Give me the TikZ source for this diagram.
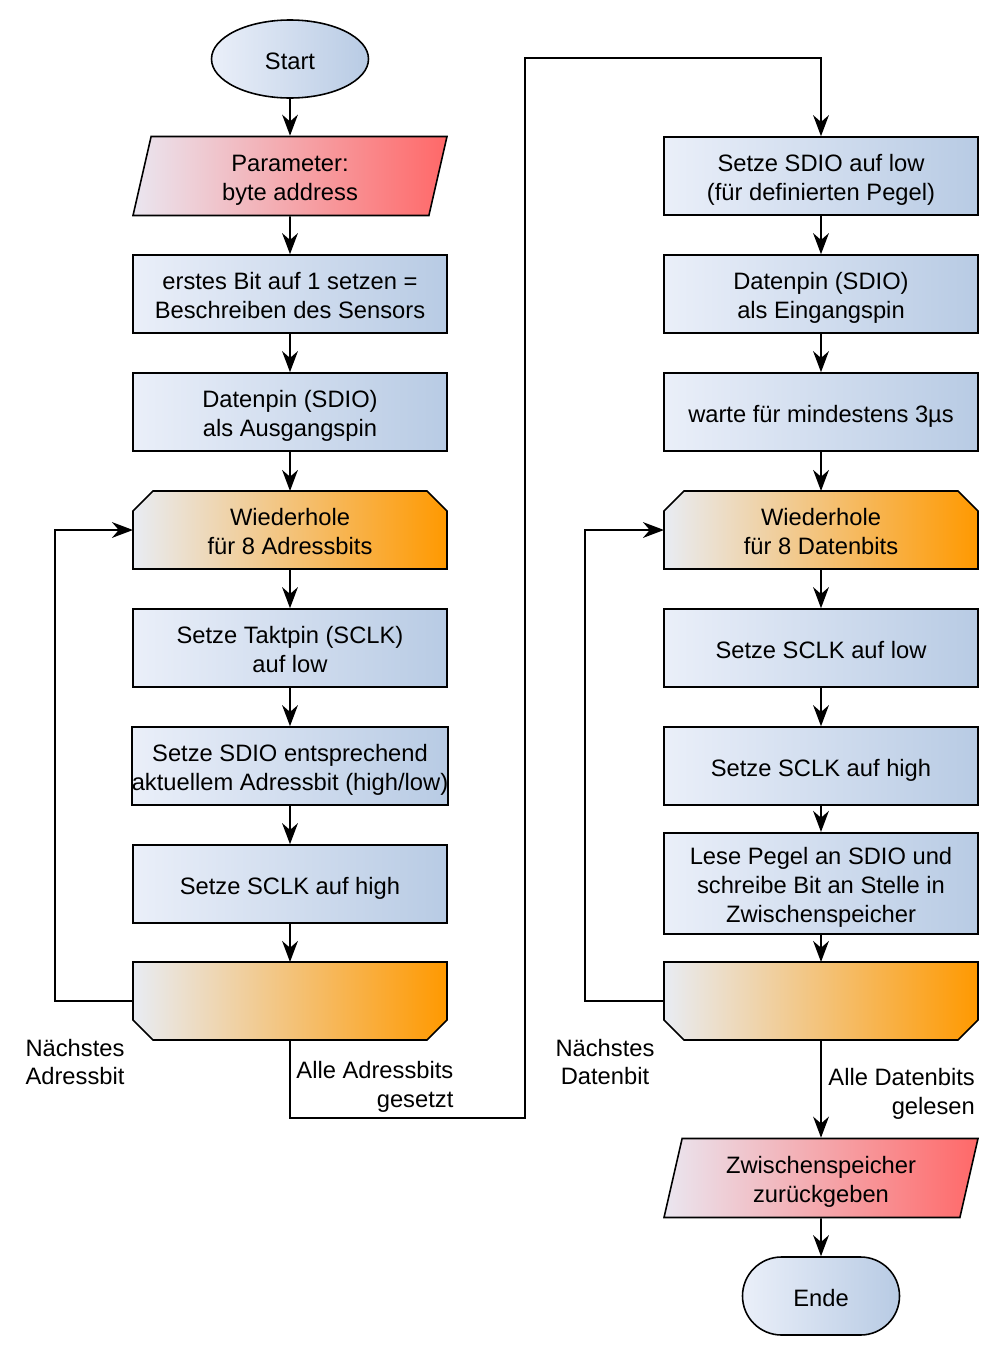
\documentclass[tikz,border=0pt]{standalone}
\usepackage{fontspec}
\setmainfont{Liberation Sans}
\usepackage{tikz}
\usetikzlibrary{arrows.meta,shapes.geometric,backgrounds}
\definecolor{boxL}{RGB}{234,239,249}
\definecolor{boxR}{RGB}{184,203,228}
\definecolor{ioL}{RGB}{234,230,240}
\definecolor{ioR}{RGB}{255,104,104}
\definecolor{loopL}{RGB}{232,236,243}
\definecolor{loopR}{RGB}{255,153,0}
\tikzset{
  every node/.style={font=\fontsize{13.5}{16.4}\selectfont},
  every path/.style={line width=0.9pt},
  >={Stealth[length=12pt,width=9pt]},
  txt/.style={execute at begin node={\rule{0pt}{#1}}, execute at end node={\rule[-3.3pt]{0pt}{3.3pt}}},
  txt/.default=15pt,
  proc/.style={draw, rectangle, txt=#1, align=center, inner xsep=0pt, minimum width=6.28cm, minimum height=1.56cm, left color=boxL, right color=boxR},
  proc/.default=31.4pt,
  io/.style={draw, trapezium, txt=31.4pt, trapezium left angle=76, trapezium right angle=104, trapezium stretches body, align=center, minimum width=6.28cm, minimum height=1.58cm, left color=ioL, right color=ioR},
  loopbox/.style={rectangle, txt=31.4pt, align=center, inner sep=0pt, outer sep=0pt, minimum width=6.28cm, minimum height=1.56cm},
  loopfill/.style={draw, left color=loopL, right color=loopR},
  term/.style={draw, ellipse, txt, minimum width=3.14cm, minimum height=1.56cm, left color=boxL, right color=boxR},
  stop/.style={draw, rectangle, txt, rounded corners=0.78cm, minimum width=3.14cm, minimum height=1.56cm, left color=boxL, right color=boxR}
}
\begin{document}
\begin{tikzpicture}
\useasboundingbox (0,0) rectangle (20,-27.1);
%Adressbits schreiben
  \node[term] (start) at (5.8,-1.18) {Start};
  \node[io] (param) at (5.8,-3.52) {Parameter:\\byte address};
  \node[proc] (bit1) at (5.8,-5.88) {erstes Bit auf 1 setzen =\\Beschreiben des Sensors};
  \node[proc] (aout) at (5.8,-8.24) {Datenpin (SDIO)\\als Ausgangspin};
  \node[loopbox] (aloop) at (5.8,-10.6) {Wiederhole\\für 8 Adressbits};
  \node[proc] (asclk) at (5.8,-12.96) {Setze Taktpin (SCLK)\\auf low};
  \node[proc] (asdio) at (5.8,-15.32) {Setze SDIO entsprechend\\aktuellem Adressbit (high/low)};
  \node[proc=15pt] (ahigh) at (5.8,-17.68) {Setze SCLK auf high};
  \node[loopbox] (aend) at (5.8,-20.02) {};
  \node[align=center] (anext) at (1.5,-21.24) {Nächstes\\Adressbit};
  \node[align=right, anchor=east] (adone) at (9.2,-21.74) {Alle Adressbits\\gesetzt};
  \coordinate (turnA) at (10.5,-22.36);
  \coordinate (turnB) at (10.5,-1.16);
%Datenbits lesen
  \node[proc] (dlow) at (16.42,-3.52) {Setze SDIO auf low\\(für definierten Pegel)};
  \node[proc] (din) at (16.42,-5.88) {Datenpin (SDIO)\\als Eingangspin};
  \node[proc=15pt] (dwait) at (16.42,-8.24) {warte für mindestens 3µs};
  \node[loopbox] (dloop) at (16.42,-10.6) {Wiederhole\\für 8 Datenbits};
  \node[proc=15pt] (dsclk) at (16.42,-12.96) {Setze SCLK auf low};
  \node[proc=15pt] (dhigh) at (16.42,-15.32) {Setze SCLK auf high};
  \node[proc=47.8pt, minimum height=1.98cm] (dread) at (16.42,-17.67) {Lese Pegel an SDIO und\\schreibe Bit an Stelle in\\Zwischenspeicher};
  \node[loopbox] (dend) at (16.42,-20.02) {};
  \node[align=center] (dnext) at (12.1,-21.24) {Nächstes\\Datenbit};
  \node[align=right, anchor=east] (ddone) at (19.63,-21.88) {Alle Datenbits\\gelesen};
  \node[io] (ret) at (16.42,-23.56) {Zwischenspeicher\\zurückgeben};
  \node[stop] (ende) at (16.42,-25.92) {Ende};
%Schleifen (abgeschraegte Ecken)
  \begin{scope}[on background layer]
    \foreach \n in {aloop,dloop}
      \path[loopfill] (\n.south west) -- ([yshift=-0.4cm]\n.north west) -- ([xshift=0.4cm]\n.north west)
        -- ([xshift=-0.4cm]\n.north east) -- ([yshift=-0.4cm]\n.north east) -- (\n.south east) -- cycle;
    \foreach \n in {aend,dend}
      \path[loopfill] (\n.north west) -- ([yshift=0.4cm]\n.south west) -- ([xshift=0.4cm]\n.south west)
        -- ([xshift=-0.4cm]\n.south east) -- ([yshift=0.4cm]\n.south east) -- (\n.north east) -- cycle;
  \end{scope}
%Pfeile
  \draw[->] (start) -- (param);
  \draw[->] (param) -- (bit1);
  \draw[->] (bit1) -- (aout);
  \draw[->] (aout) -- (aloop);
  \draw[->] (aloop) -- (asclk);
  \draw[->] (asclk) -- (asdio);
  \draw[->] (asdio) -- (ahigh);
  \draw[->] (ahigh) -- (aend);
  \draw[->] (aend.west) -- ++(-1.56,0) |- (aloop.west);
  \draw[->] (aend.south) |- (turnA) -- (turnB) -| (dlow.north);
  \draw[->] (dlow) -- (din);
  \draw[->] (din) -- (dwait);
  \draw[->] (dwait) -- (dloop);
  \draw[->] (dloop) -- (dsclk);
  \draw[->] (dsclk) -- (dhigh);
  \draw[->] (dhigh) -- (dread);
  \draw[->] (dread) -- (dend);
  \draw[->] (dend.west) -- ++(-1.58,0) |- (dloop.west);
  \draw[->] (dend) -- (ret);
  \draw[->] (ret) -- (ende);
\end{tikzpicture}
\end{document}
